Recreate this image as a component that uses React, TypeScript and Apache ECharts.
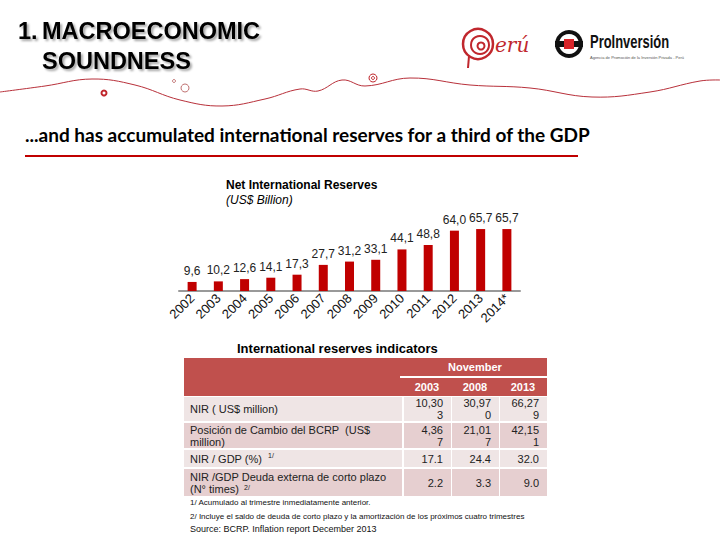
import React, { useEffect, useRef } from "react";
import * as echarts from "echarts";

// ---- Chart data ----
const years = ["2002", "2003", "2004", "2005", "2006", "2007", "2008", "2009", "2010", "2011", "2012", "2013", "2014*"];
const reserves = [9.6, 10.2, 12.6, 14.1, 17.3, 27.7, 31.2, 33.1, 44.1, 48.8, 64.0, 65.7, 65.7];

// ---- Table data ----
const tableYears = ["2003", "2008", "2013"];
const rowLabels = [
  "NIR ( US$ million)",
  "Posición de Cambio del BCRP  (US$\nmillion)",
  "NIR / GDP (%)",
  "NIR /GDP Deuda externa de corto plazo\n(N° times)",
];
const rowNotes = ["", "", "1/", "2/"];
const values2003 = ["10,303", "4,367", "17.1", "2.2"];
const values2008 = ["30,970", "21,017", "24.4", "3.3"];
const values2013 = ["66,279", "42,151", "32.0", "9.0"];
const footnotes = [
  "1/ Acumulado al trimestre inmediatamente anterior.",
  "2/ Incluye el saldo de deuda de corto plazo y la amortización de los próximos cuatro trimestres",
  "Source: BCRP. Inflation report December 2013",
];

const SANS = "'Liberation Sans', Arial, sans-serif";
const RED = "#c00000";
const HEAD = "#c0504d";
const LIGHT = "#efe5e5";
const DARK = "#e6cfd0";

function wrapVal(s: string) {
  return s.includes(",") ? s.slice(0, -1) + "\n" + s.slice(-1) : s;
}

export default function App() {
  const ref = useRef<HTMLDivElement>(null);

  useEffect(() => {
    if (!ref.current) return;
    const chart = echarts.init(ref.current, null, { renderer: "svg", width: 720, height: 540 });

    const g: any[] = [];

    // header title
    const shadow = { textShadowColor: "rgba(0,0,0,0.35)", textShadowBlur: 2, textShadowOffsetX: 2, textShadowOffsetY: 2 };
    g.push({ type: "text", style: { text: "1.", x: 18, y: 31, fill: "#000", fontSize: 23.5, fontWeight: "bold", fontFamily: SANS, verticalAlign: "middle", ...shadow } });
    g.push({ type: "text", style: { text: "MACROECONOMIC", x: 42, y: 31, fill: "#000", fontSize: 23.5, fontWeight: "bold", fontFamily: SANS, verticalAlign: "middle", ...shadow } });
    g.push({ type: "text", style: { text: "SOUNDNESS", x: 42, y: 61, fill: "#000", fontSize: 23.5, fontWeight: "bold", fontFamily: SANS, verticalAlign: "middle", ...shadow } });

    // decorative wave
    g.push({
      type: "polyline",
      shape: {
        points: [[0, 92], [45, 86], [92, 79], [135, 85], [180, 100], [222, 106], [265, 99], [300, 89], [318, 91], [342, 80], [365, 86], [410, 78], [470, 85], [530, 88], [592, 97], [650, 92], [700, 81], [720, 80]],
        smooth: 0.4,
      },
      style: { stroke: "#b8303a", lineWidth: 1, fill: null },
    });
    g.push({ type: "circle", shape: { cx: 104, cy: 93, r: 2.5 }, style: { stroke: "#c0272d", lineWidth: 2, fill: "#fff" } });
    g.push({ type: "circle", shape: { cx: 185, cy: 88, r: 4 }, style: { stroke: "#c07070", lineWidth: 1, fill: "none" } });
    g.push({ type: "circle", shape: { cx: 174, cy: 81, r: 1.5 }, style: { stroke: "#c07070", lineWidth: 1, fill: "none" } });
    g.push({ type: "circle", shape: { cx: 373, cy: 78, r: 4 }, style: { stroke: "#c0272d", lineWidth: 1, fill: "none" } });
    g.push({ type: "circle", shape: { cx: 373, cy: 78, r: 1.5 }, style: { stroke: "#c0272d", lineWidth: 1, fill: "none" } });

    // Peru logo
    g.push({ type: "circle", shape: { cx: 478, cy: 44, r: 15 }, style: { stroke: "#c0272d", lineWidth: 2.5, fill: "none" } });
    g.push({ type: "circle", shape: { cx: 480, cy: 45, r: 9 }, style: { stroke: "#c0272d", lineWidth: 2, fill: "none" } });
    g.push({ type: "circle", shape: { cx: 481, cy: 46, r: 3.5 }, style: { stroke: "#c0272d", lineWidth: 2, fill: "none" } });
    g.push({ type: "line", shape: { x1: 469, y1: 56, x2: 468, y2: 68 }, style: { stroke: "#c0272d", lineWidth: 2 } });
    g.push({ type: "text", style: { text: "erú", x: 495, y: 45, fill: "#c0272d", fontSize: 20, fontStyle: "italic", fontFamily: "'DejaVu Serif', serif", verticalAlign: "middle" } });

    // ProInversion logo
    g.push({ type: "circle", shape: { cx: 569, cy: 44, r: 14 }, style: { fill: "#111" } });
    g.push({ type: "circle", shape: { cx: 569, cy: 44, r: 10 }, style: { fill: "#fff" } });
    g.push({ type: "rect", shape: { x: 555, y: 41, width: 28, height: 6 }, style: { fill: "#111" } });
    g.push({ type: "rect", shape: { x: 564, y: 39, width: 10, height: 10 }, style: { fill: "#d9252a" } });
    g.push({ type: "text", x: 590, y: 42, scaleX: 0.72, style: { text: "ProInversión", x: 0, y: 0, fill: "#111", fontSize: 18, fontWeight: "bold", fontFamily: SANS, verticalAlign: "middle" } });
    g.push({ type: "text", style: { text: "Agencia de Promoción de la Inversión Privada - Perú", x: 590, y: 57, fill: "#555", fontSize: 4, fontFamily: SANS, verticalAlign: "middle" } });

    // subtitle
    g.push({ type: "text", style: { text: "...and has accumulated international reserves for a third of the GDP", x: 25, y: 134, fill: "#000", fontSize: 19, fontWeight: "bold", fontFamily: "Lato, sans-serif", verticalAlign: "middle" } });
    g.push({ type: "rect", shape: { x: 25, y: 155, width: 553, height: 2 }, style: { fill: RED } });

    // chart title
    g.push({ type: "text", style: { text: "Net International Reserves", x: 226, y: 185, fill: "#000", fontSize: 12, fontWeight: "bold", fontFamily: SANS, verticalAlign: "middle" } });
    g.push({ type: "text", style: { text: "(US$ Billion)", x: 226, y: 200, fill: "#000", fontSize: 12, fontStyle: "italic", fontFamily: SANS, verticalAlign: "middle" } });

    // table title
    g.push({ type: "text", style: { text: "International reserves indicators", x: 237, y: 348, fill: "#000", fontSize: 13, fontWeight: "bold", fontFamily: SANS, verticalAlign: "middle" } });

    // table header
    g.push({ type: "rect", shape: { x: 184, y: 358, width: 363, height: 38 }, style: { fill: HEAD } });
    g.push({ type: "rect", shape: { x: 400, y: 376, width: 147, height: 2 }, style: { fill: "#fff" } });
    g.push({ type: "text", style: { text: "November", x: 475, y: 367, fill: "#fff", fontSize: 11, fontWeight: "bold", fontFamily: SANS, align: "center", verticalAlign: "middle" } });
    const colLeft = [403, 451, 499];
    const colW = 48;
    tableYears.forEach((y, i) => {
      g.push({ type: "text", style: { text: y, x: colLeft[i] + colW / 2, y: 387, fill: "#fff", fontSize: 11, fontWeight: "bold", fontFamily: SANS, align: "center", verticalAlign: "middle" } });
    });

    // table rows
    const rows = [
      { top: 397, h: 24, fill: LIGHT },
      { top: 423, h: 25, fill: DARK },
      { top: 450, h: 17, fill: LIGHT },
      { top: 469, h: 27, fill: DARK },
    ];
    const cols = [values2003, values2008, values2013];
    rows.forEach((r, ri) => {
      g.push({ type: "rect", shape: { x: 184, y: r.top, width: 218, height: r.h }, style: { fill: r.fill } });
      colLeft.forEach((cl, ci) => {
        g.push({ type: "rect", shape: { x: cl + 1, y: r.top, width: colW - 1, height: r.h }, style: { fill: r.fill } });
        g.push({
          type: "text",
          style: {
            text: wrapVal(cols[ci][ri]), x: cl + colW - 8, y: r.top + r.h / 2, fill: "#222", fontSize: 11, fontFamily: SANS,
            align: "right", verticalAlign: "middle", lineHeight: 12,
          },
        });
      });
      g.push({
        type: "text",
        style: { text: rowLabels[ri], x: 190, y: r.top + r.h / 2, fill: "#222", fontSize: 11, fontFamily: SANS, verticalAlign: "middle", lineHeight: 12 },
      });
    });
    // superscript notes
    g.push({ type: "text", style: { text: rowNotes[2], x: 268, y: 455, fill: "#222", fontSize: 7, fontFamily: SANS, verticalAlign: "middle" } });
    g.push({ type: "text", style: { text: rowNotes[3], x: 244, y: 487, fill: "#222", fontSize: 7, fontFamily: SANS, verticalAlign: "middle" } });

    // footnotes
    const fy = [502, 516, 529];
    const fs = [8, 8, 9];
    footnotes.forEach((t, i) => {
      g.push({ type: "text", style: { text: t, x: 190, y: fy[i], fill: "#111", fontSize: fs[i], fontFamily: SANS, verticalAlign: "middle" } });
    });

    chart.setOption({
      animation: false,
      backgroundColor: "#fff",
      grid: { left: 179, right: 200, top: 225, bottom: 249, containLabel: false },
      xAxis: {
        type: "category",
        data: years,
        axisLine: { lineStyle: { color: "#999", width: 2 } },
        axisTick: { show: false },
        axisLabel: { rotate: 45, margin: 5, fontSize: 13, color: "#111", fontFamily: SANS, interval: 0 },
      },
      yAxis: { type: "value", min: 0, max: 70, show: false, splitLine: { show: false } },
      series: [
        {
          type: "bar",
          data: reserves,
          barWidth: 9,
          itemStyle: { color: RED },
          label: {
            show: true,
            position: "top",
            distance: 5,
            fontSize: 12,
            color: "#222",
            fontFamily: SANS,
            formatter: (p: any) => Number(p.value).toFixed(1).replace(".", ","),
          },
        },
      ],
      graphic: g,
    });

    return () => chart.dispose();
  }, []);

  return <div ref={ref} style={{ position: "absolute", left: 0, top: 0, width: 720, height: 540, background: "#fff" }} />;
}
